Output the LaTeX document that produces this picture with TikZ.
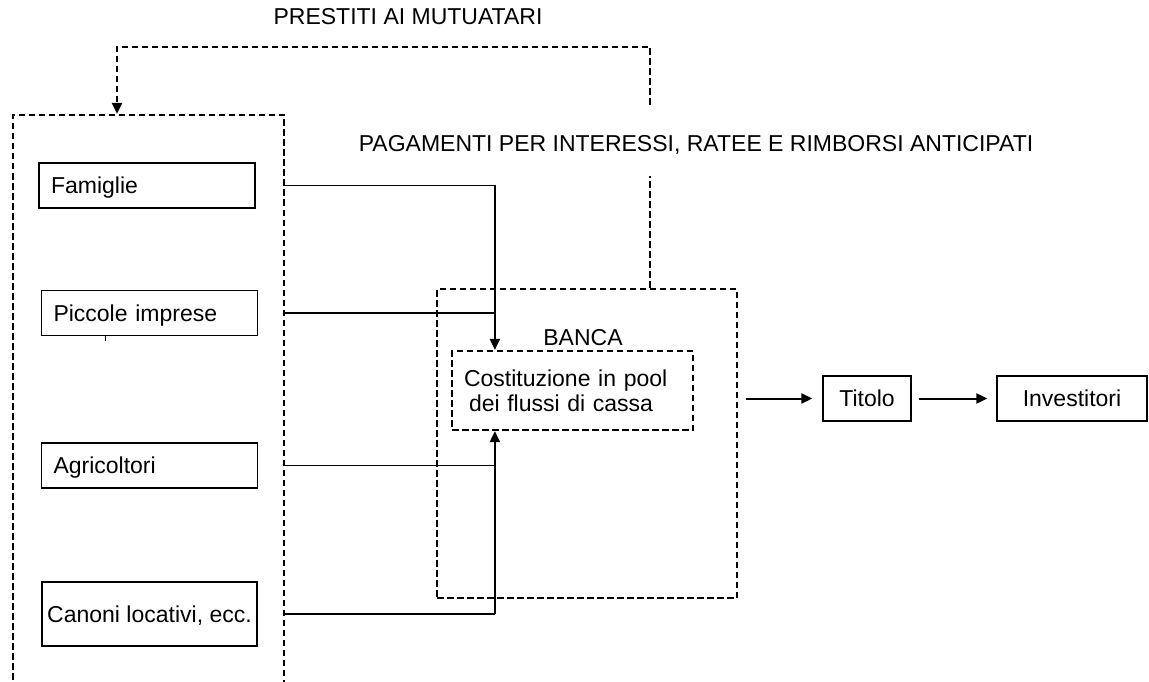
\documentclass[tikz,border=0pt]{standalone}
\usepackage{fontspec}
\setmainfont{Liberation Sans}
\usetikzlibrary{arrows.meta}

\begin{document}
\begin{tikzpicture}[x=1pt,y=-1pt,>={Triangle[length=11pt,width=10pt]},
  every node/.style={font=\fontsize{23}{25}\selectfont},
  box/.style={draw,line width=1.3pt,minimum height=45pt,text height=16.5pt,text depth=0pt},
  src/.style={box,inner xsep=12pt,text width=192pt,align=left},
  dbox/.style={draw,line width=2.2pt,dash pattern=on 6.5pt off 3.5pt},
  dline/.style={line width=2.2pt,dash pattern=on 6.5pt off 3.5pt},
  hline/.style={line width=1.2pt},
  vline/.style={line width=2pt}]
  \useasboundingbox (0,0) rectangle (1149,682);
  \clip (0,0) rectangle (1149,682);

  \node[dbox,minimum width=271pt,minimum height=640pt] (mutuatari) at (148.5,435) {};
  \node[src] (fam) at (147,185.5) {Famiglie};
  \node[src] (picc) at (149.5,313) {Piccole imprese};
  \node[src] (agri) at (149.5,465.5) {Agricoltori};
  \node[box,minimum width=215pt,minimum height=64pt] (canoni) at (149.5,614) {Canoni locativi, ecc.};
  \draw[line width=0.8pt] ([xshift=-44.5pt]picc.south) -- ++(0,5);

  \node[dbox,minimum width=300pt,minimum height=309pt] (banca) at (587,443.5) {};
  \node (bancat) at (583,338) {BANCA};
  \node[dbox,minimum width=241pt,minimum height=79pt,inner xsep=12pt,text width=217pt,align=left] (pool) at (572.5,390.5)
    {Costituzione in pool\\\hspace*{5pt}dei flussi di cassa};

  \node[box,minimum width=88pt] (titolo) at (867,398.5) {Titolo};
  \node[box,minimum width=150pt] (invest) at (1072,398.5) {Investitori};

  \node (prestiti) at (408,17) {PRESTITI AI MUTUATARI};
  \node (pagamenti) at (696,145) {PAGAMENTI PER INTERESSI, RATEE E RIMBORSI ANTICIPATI};

  \coordinate (pagtop) at (650,105);
  \coordinate (pagbot) at (650,176);
  \coordinate (bend) at (650,47);
  \draw[dline,->] (pagtop) -- (bend) -| ([xshift=-31.5pt]mutuatari.north);
  \draw[dline] ([xshift=63pt]banca.north) -- (pagbot);

  \coordinate (inN) at ([xshift=44pt]pool.north west);
  \coordinate (inS) at ([xshift=44pt]pool.south west);
  \draw[hline] (mutuatari.east |- fam) -- (fam -| inN);
  \draw[vline,->] (fam -| inN) -- (inN);
  \draw[hline] (mutuatari.east |- picc) -- (picc -| inN);
  \draw[hline] (mutuatari.east |- agri) -- (agri -| inS);
  \draw[hline] (mutuatari.east |- canoni) -- (canoni -| inS);
  \draw[vline,->] (canoni -| inS) -- (inS);

  \draw[vline,->,shorten <=8pt,shorten >=10pt] (banca.east |- titolo) -- (titolo.west);
  \draw[vline,->,shorten <=7pt,shorten >=9pt] (titolo.east) -- (invest.west);
\end{tikzpicture}
\end{document}
